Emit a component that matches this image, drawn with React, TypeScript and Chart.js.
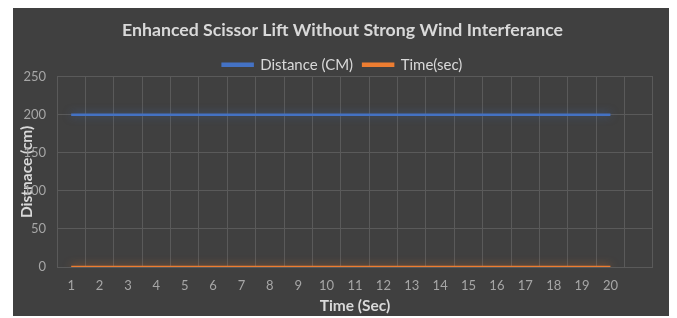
import React, { useEffect, useRef } from "react";
import { Chart, registerables } from "chart.js";

Chart.register(...registerables);

// Excel source range includes an extra empty 21st row (empty category column)
const categories: string[] = ["1","2","3","4","5","6","7","8","9","10","11","12","13","14","15","16","17","18","19","20",""];
const distanceCm: (number | null)[] = [200,200,200,200,200,200,200,200,200,200,200,200,200,200,200,200,200,200,200,200,null];
const timeSec: (number | null)[] = [0,0,0,0,0,0,0,0,0,0,0,0,0,0,0,0,0,0,0,0,null];
const yTicks: number[] = [0, 50, 100, 150, 200, 250];

const FONT = "Lato, 'Open Sans', sans-serif";

const glowPlugin = {
  id: "glow",
  beforeDatasetDraw(chart: any, args: any) {
    const ctx = chart.ctx;
    ctx.save();
    const c = args.index === 0 ? "rgba(68,114,196,0.55)" : "rgba(237,125,49,0.6)";
    ctx.shadowColor = c;
    ctx.shadowBlur = 8;
  },
  afterDatasetDraw(chart: any) {
    chart.ctx.restore();
  },
};

export default function App() {
  const ref = useRef<HTMLCanvasElement | null>(null);
  useEffect(() => {
    if (!ref.current) return;
    const chart = new Chart(ref.current, {
      type: "line",
      data: {
        labels: categories,
        datasets: [
          {
            label: "Distance (CM)",
            data: distanceCm,
            borderColor: "#4472C4",
            backgroundColor: "#4472C4",
            borderWidth: 2.5,
            pointRadius: 0,
            tension: 0,
          },
          {
            label: "Time(sec)",
            data: timeSec,
            borderColor: "#ED7D31",
            backgroundColor: "#ED7D31",
            borderWidth: 2.5,
            pointRadius: 0,
            tension: 0,
          },
        ],
      },
      options: {
        animation: false,
        responsive: false,
        maintainAspectRatio: false,
        layout: { padding: { left: 0, right: 0, top: 4, bottom: 0 } },
        plugins: {
          title: {
            display: true,
            text: "Enhanced Scissor Lift Without Strong Wind Interferance",
            color: "#d9d9d9",
            font: { family: FONT, size: 17.7, weight: "bold" },
            padding: { top: 8, bottom: 6 },
          },
          legend: {
            display: true,
            position: "top",
            maxHeight: 29.5,
            labels: {
              color: "#d9d9d9",
              font: { family: FONT, size: 15 },
              boxWidth: 30,
              boxHeight: 2,
              padding: 10,
            },
          },
          tooltip: { enabled: false },
        },
        scales: {
          x: {
            offset: true,
            grid: {
              display: true,
              offset: true,
              color: "#5a5a5a",
              tickColor: "rgba(0,0,0,0)",
              drawTicks: true,
              tickLength: 8,
            },
            border: { display: false },
            ticks: {
              color: "#a6a6a6",
              font: { family: FONT, size: 13 },
              padding: 3,
              maxRotation: 0,
              autoSkip: false,
            },
            title: {
              display: true,
              text: "Time (Sec)",
              color: "#d9d9d9",
              font: { family: FONT, size: 15.5, weight: "bold" },
              padding: { top: 1, bottom: 1 },
            },
            afterFit: (scale: any) => {
              scale.height = 49;
            },
          },
          y: {
            min: 0,
            max: 250,
            afterBuildTicks: (scale: any) => {
              scale.ticks = yTicks.map((v) => ({ value: v }));
            },
            grid: {
              color: "#5a5a5a",
              tickColor: "rgba(0,0,0,0)",
              drawTicks: true,
              tickLength: 8,
            },
            border: { display: false },
            ticks: {
              color: "#a6a6a6",
              font: { family: FONT, size: 13 },
              padding: 3,
            },
            title: {
              display: true,
              text: "Distnace (cm)",
              color: "#d9d9d9",
              font: { family: FONT, size: 15.5, weight: "bold" },
              padding: { top: 5, bottom: 2 },
            },
            afterFit: (scale: any) => {
              scale.width = 44;
            },
          },
          yRight: {
            type: "linear",
            position: "right",
            display: true,
            min: 0,
            max: 250,
            grid: { display: false, drawOnChartArea: false, drawTicks: false },
            border: { display: false },
            ticks: { display: false },
            title: { display: false },
            afterFit: (scale: any) => {
              scale.width = 19;
            },
          },
        },
      },
      plugins: [glowPlugin],
    });
    return () => chart.destroy();
  }, []);

  return (
    <div style={{ marginLeft: 5, width: 659, height: 308, background: "#404040" }}>
      <canvas ref={ref} width={659} height={308} style={{ display: "block" }} />
    </div>
  );
}
